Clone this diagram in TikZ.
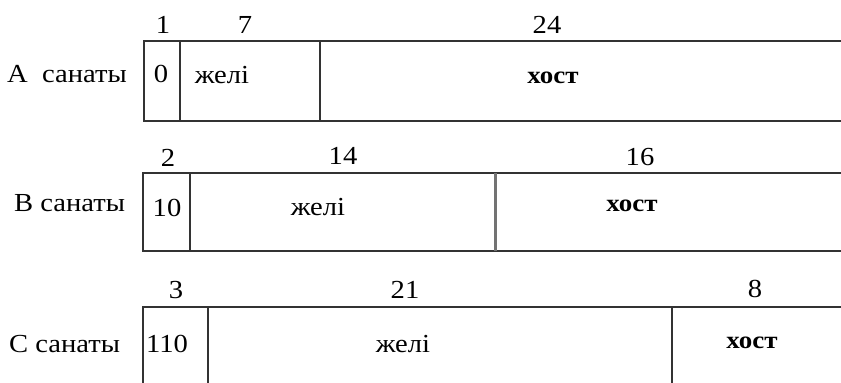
\documentclass[tikz,border=0pt]{standalone}
\usepackage{fontspec}
\setmainfont[FakeStretch=1.1]{Liberation Serif}
\begin{document}
\begin{tikzpicture}[x=1pt,y=-1pt,
  frame/.style={draw=black!80,line width=2pt},
  midbar/.style={draw=black!55,line width=3pt},
  txt/.style={anchor=base,inner sep=0pt,font=\fontsize{26}{30}\selectfont},
  hst/.style={anchor=base,inner sep=0pt,font=\fontsize{24.5}{28}\selectfont\bfseries}]
\useasboundingbox (0,0) rectangle (841,383);
% Row A
\draw[frame] (841,41) -- (144,41) -- (144,121) -- (841,121);
\draw[frame] (180,41) -- (180,121);
\draw[frame] (320,41) -- (320,121);
\node[txt] (a1) at (163,33) {1};
\node[txt] (a7) at (245,33) {7};
\node[txt] (a24) at (547,33) {24};
\node[txt,anchor=base west] (aname) at (7,82) {А\ \ санаты};
\node[txt] (a0) at (161,82) {0};
\node[txt] (anet) at (222,83) {желі};
\node[hst] (ahost) at (553,83) {хост};
% Row B
\draw[frame] (841,173) -- (143,173) -- (143,251) -- (841,251);
\draw[frame] (190,173) -- (190,251);
\draw[midbar] (495,173) -- (495,251);
\node[txt] (b2) at (168,166) {2};
\node[txt] (b14) at (343,164) {14};
\node[txt] (b16) at (640,165) {16};
\node[txt,anchor=base west] (bname) at (14,211) {В санаты};
\node[txt] (b10) at (167,216) {10};
\node[txt] (bnet) at (318,215) {желі};
\node[hst] (bhost) at (632,211) {хост};
% Row C
\draw[frame] (841,307) -- (143,307) -- (143,384);
\draw[frame] (208,307) -- (208,384);
\draw[frame] (672,307) -- (672,384);
\node[txt] (c3) at (176,298) {3};
\node[txt] (c21) at (405,298) {21};
\node[txt] (c8) at (755,297) {8};
\node[txt,anchor=base west] (cname) at (9,352) {С санаты};
\node[txt] (c110) at (167,352) {110};
\node[txt] (cnet) at (403,352) {желі};
\node[hst] (chost) at (752,348) {хост};
\end{tikzpicture}
\end{document}
